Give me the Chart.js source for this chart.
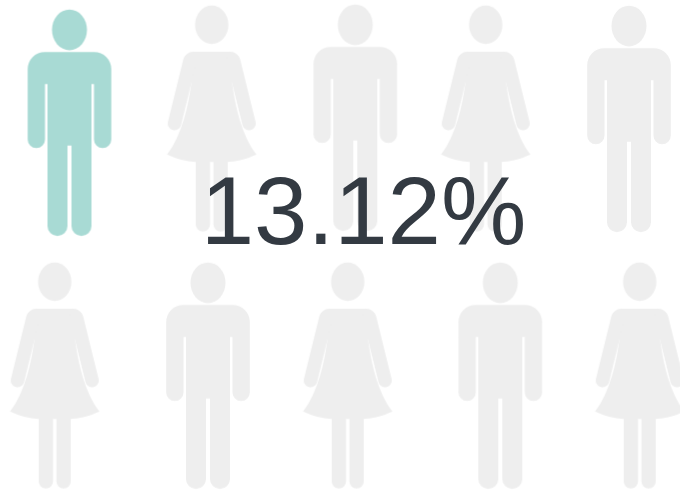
<!DOCTYPE html>
<html><head><meta charset="utf-8">
<style>html,body{margin:0;padding:0;background:#fff}canvas{display:block}</style>
<script src="https://cdn.jsdelivr.net/npm/chart.js@4"></script>
</head><body>
<canvas id="c" width="680" height="490"></canvas>
<script>
const figures = ['man','woman','man','woman','man','woman','man','woman','man','woman'];
const xValues = [69.5,211.7,355.3,485.7,629,54.7,208,347.7,500.3,639.7];
const yValues = [122.8,118.7,117.7,118.7,118.9,375.7,375.7,375.7,375.7,375.7];
const highlighted = [true,false,false,false,false,false,false,false,false,false];
const percentLabel = ['13.12%'];
const TEAL='#a8dad4', GREY='#eeeeee', INK='#333a42';

function drawMan(g){
  g.beginPath(); g.ellipse(0,20.3,17.5,20.3,0,0,Math.PI*2); g.fill();
  g.beginPath();
  g.roundRect(-41.8,42.5,83.6,32,[17,17,0,0]);
  g.roundRect(-41.8,60,17.3,78.5,[0,0,8.6,8.6]);
  g.roundRect(24.5,60,17.3,78.5,[0,0,8.6,8.6]);
  g.rect(-22,60,44,76);
  g.roundRect(-22,130,20,96.5,[0,0,10,10]);
  g.roundRect(2,130,20,96.5,[0,0,10,10]);
  g.fill();
}
function drawWoman(g){
  g.beginPath(); g.ellipse(0,19.2,16.7,19.2,0,0,Math.PI*2); g.fill();
  g.beginPath();
  g.moveTo(-18,46.3); g.lineTo(18,46.3); g.quadraticCurveTo(25,46.3,27,52);
  g.lineTo(19.7,72);
  g.bezierCurveTo(23,100,30,130,44.7,149);
  g.quadraticCurveTo(30,156,16,156.5);
  g.lineTo(-16,156.5);
  g.quadraticCurveTo(-30,156,-44.7,149);
  g.bezierCurveTo(-30,130,-23,100,-19.7,72);
  g.lineTo(-27,52);
  g.quadraticCurveTo(-25,46.3,-18,46.3);
  g.roundRect(-16,150,14.3,76,[0,0,7,7]);
  g.roundRect(1.7,150,14.3,76,[0,0,7,7]);
  g.fill();
  g.lineCap='round'; g.lineWidth=13.5;
  for(const s of [-1,1]){
    g.beginPath(); g.moveTo(s*21.8,55); g.lineTo(s*37.3,118); g.stroke();
  }
}
function makeIcon(kind,color){
  const cv=document.createElement('canvas'); cv.width=100; cv.height=240;
  const g=cv.getContext('2d');
  g.fillStyle=color; g.strokeStyle=color;
  g.translate(50,120-113.2);
  (kind==='man'?drawMan:drawWoman)(g);
  return cv;
}
const icons=figures.map((f,i)=>makeIcon(f,highlighted[i]?TEAL:GREY));

const centerText={id:'centerText',afterDatasetsDraw(chart){
  const {ctx,scales}=chart;
  ctx.save();
  ctx.font='96px "Liberation Sans", Arial, sans-serif';
  ctx.fillStyle=INK; ctx.textAlign='center'; ctx.textBaseline='alphabetic';
  ctx.fillText(percentLabel[0],scales.x.getPixelForValue(363.5),scales.y.getPixelForValue(244));
  ctx.restore();
}};

new Chart(document.getElementById('c'),{
  type:'scatter',
  data:{labels:figures,datasets:[{
    data:xValues.map((x,i)=>({x,y:yValues[i]})),
    pointStyle:icons,pointRadius:10,pointHoverRadius:10,showLine:false,clip:false
  }]},
  options:{
    responsive:false,animation:false,
    layout:{padding:0,autoPadding:false},
    plugins:{legend:{display:false},tooltip:{enabled:false},title:{display:false}},
    scales:{
      x:{type:'linear',min:0,max:680,display:false},
      y:{type:'linear',min:0,max:490,reverse:true,display:false}
    }
  },
  plugins:[centerText]
});
</script>
</body></html>
